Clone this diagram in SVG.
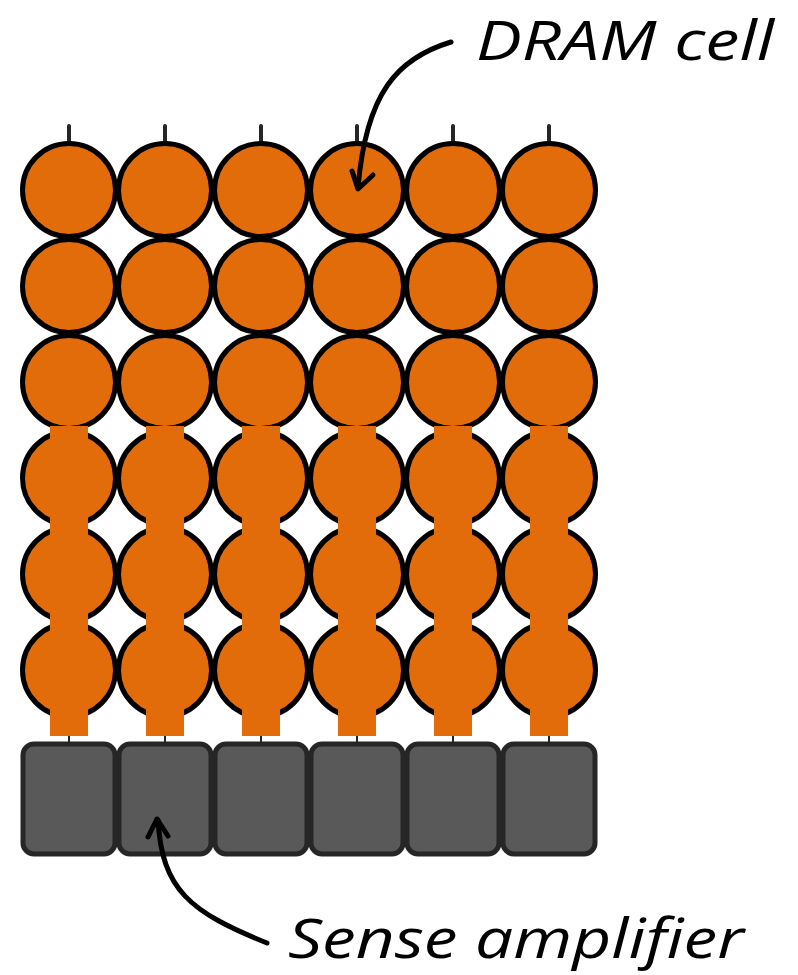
<svg xmlns="http://www.w3.org/2000/svg" width="798" height="975" viewBox="0 0 798 975">
<defs>
<style>
.cell{fill:#E36C0A;stroke:#000;stroke-width:5}
.bar{fill:#E36C0A}
.wire{stroke:#262626;stroke-width:4;stroke-linecap:round;fill:none}
.lead{stroke:#262626;stroke-width:2;fill:none}
.amp{fill:#595959;stroke:#262626;stroke-width:5}
.arrow{fill:none;stroke:#000;stroke-width:5;stroke-linecap:round;stroke-linejoin:round}
.label{font-family:"Open Sans","Noto Sans","Liberation Sans",sans-serif;font-style:italic;font-size:54px;fill:#000}
</style>
<circle id="c" r="46.5" class="cell"/>
<rect id="a" x="-46" y="0" width="92" height="110" rx="11" class="amp"/>
</defs>
<g id="wires">
<line class="wire" x1="69" y1="126" x2="69" y2="142"/>
<line class="wire" x1="165" y1="126" x2="165" y2="142"/>
<line class="wire" x1="261" y1="126" x2="261" y2="142"/>
<line class="wire" x1="357" y1="126" x2="357" y2="142"/>
<line class="wire" x1="453" y1="126" x2="453" y2="142"/>
<line class="wire" x1="549" y1="126" x2="549" y2="142"/>
<line class="lead" x1="69" y1="734" x2="69" y2="745"/>
<line class="lead" x1="165" y1="734" x2="165" y2="745"/>
<line class="lead" x1="261" y1="734" x2="261" y2="745"/>
<line class="lead" x1="357" y1="734" x2="357" y2="745"/>
<line class="lead" x1="453" y1="734" x2="453" y2="745"/>
<line class="lead" x1="549" y1="734" x2="549" y2="745"/>
</g>
<g id="cells">
<use href="#c" x="69" y="190"/><use href="#c" x="165" y="190"/><use href="#c" x="261" y="190"/><use href="#c" x="357" y="190"/><use href="#c" x="453" y="190"/><use href="#c" x="549" y="190"/>
<use href="#c" x="69" y="286"/><use href="#c" x="165" y="286"/><use href="#c" x="261" y="286"/><use href="#c" x="357" y="286"/><use href="#c" x="453" y="286"/><use href="#c" x="549" y="286"/>
<use href="#c" x="69" y="382"/><use href="#c" x="165" y="382"/><use href="#c" x="261" y="382"/><use href="#c" x="357" y="382"/><use href="#c" x="453" y="382"/><use href="#c" x="549" y="382"/>
<use href="#c" x="69" y="478"/><use href="#c" x="165" y="478"/><use href="#c" x="261" y="478"/><use href="#c" x="357" y="478"/><use href="#c" x="453" y="478"/><use href="#c" x="549" y="478"/>
<use href="#c" x="69" y="574"/><use href="#c" x="165" y="574"/><use href="#c" x="261" y="574"/><use href="#c" x="357" y="574"/><use href="#c" x="453" y="574"/><use href="#c" x="549" y="574"/>
<use href="#c" x="69" y="670"/><use href="#c" x="165" y="670"/><use href="#c" x="261" y="670"/><use href="#c" x="357" y="670"/><use href="#c" x="453" y="670"/><use href="#c" x="549" y="670"/>
</g>
<g id="bitlines">
<rect class="bar" x="50" y="426" width="38" height="310"/>
<rect class="bar" x="146" y="426" width="38" height="310"/>
<rect class="bar" x="242" y="426" width="38" height="310"/>
<rect class="bar" x="338" y="426" width="38" height="310"/>
<rect class="bar" x="434" y="426" width="38" height="310"/>
<rect class="bar" x="530" y="426" width="38" height="310"/>
</g>
<g id="sense-amps">
<use href="#a" x="69" y="744"/><use href="#a" x="165" y="744"/><use href="#a" x="261" y="744"/><use href="#a" x="357" y="744"/><use href="#a" x="453" y="744"/><use href="#a" x="549" y="744"/>
</g>
<g id="connectors">
<path class="arrow" d="M451,42 C398,58 366,92 358,188"/>
<path class="arrow" d="M352,171 L358,189 L373,175"/>
<path class="arrow" d="M267,943 C190,912 162,890 158,820"/>
<path class="arrow" d="M148,837 L157,819 L168,836"/>
</g>
<g id="labels">
<text class="label" x="476" y="60" textLength="298" lengthAdjust="spacingAndGlyphs">DRAM cell</text>
<text class="label" x="288" y="958" textLength="456" lengthAdjust="spacingAndGlyphs">Sense amplifier</text>
</g>
</svg>
